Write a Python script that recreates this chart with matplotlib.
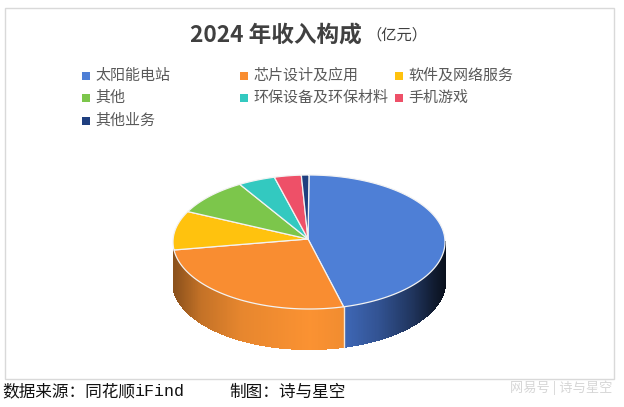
import numpy as np
import matplotlib
matplotlib.use('Agg')
import matplotlib.pyplot as plt
from matplotlib.colors import to_rgb
from matplotlib.patches import Polygon, Rectangle

plt.rcParams['font.family'] = ['Noto Sans CJK SC', 'DejaVu Sans']

categories = ['太阳能电站', '芯片设计及应用', '软件及网络服务', '其他',
              '环保设备及环保材料', '手机游戏', '其他业务']
values = [45.9, 27.2, 9.4, 9.0, 4.4, 3.2, 0.9]
colors = ['#4e7fd6', '#f98d31', '#ffc20e', '#7cc64b', '#33c9c0', '#ee5068', '#1f3f7f']
side_colors = ['#3f68b8', '#fb9232']

W, H = 624, 407
cx, cy, rx, ry, depth = 309, 242, 136, 67, 40

fig = plt.figure(figsize=(W / 100, H / 100), dpi=100)
ax = fig.add_axes([0, 0, 1, 1])
ax.set_xlim(0, W)
ax.set_ylim(H, 0)
ax.axis('off')


def rim(t):
    # t is clockwise from 12 o'clock, in radians
    return cx + rx * np.sin(t), cy - ry * np.cos(t)


ax.add_patch(Rectangle((5, 8), 609, 371, fc='white', ec='#d9d9d9', lw=1))

edges = np.radians(np.concatenate([[0], np.cumsum(values)]) * 360 / sum(values))

# side wall, shaded in thin strips
for i in range(2):
    t = np.linspace(max(edges[i], np.pi / 2), min(edges[i + 1], 1.5 * np.pi), 200)
    base = np.array(to_rgb(side_colors[i]))
    for a, b in zip(t[:-1], t[1:]):
        x0, y0 = rim(a)
        x1, y1 = rim(b)
        u = ((x0 + x1) / 2 - (cx - rx)) / (2 * rx)
        if i == 0:
            shade = np.interp(u, [0.62, 0.75, 0.88, 0.96, 1.0], [1.0, 0.8, 0.5, 0.25, 0.15])
        else:
            shade = np.interp(u, [0.0, 0.1, 0.25, 0.5, 0.62], [0.55, 0.78, 0.92, 1.0, 0.96])
        ax.add_patch(Polygon([(x0, y0), (x1, y1), (x1, y1 + depth), (x0, y0 + depth)],
                             fc=base * shade, ec=base * shade, lw=0.8, antialiased=False))

x_b, y_b = rim(edges[1])
ax.plot([x_b, x_b], [y_b, y_b + depth], color='#f4e6d8', lw=1)

# top face
for i, c in enumerate(colors):
    t = np.linspace(edges[i], edges[i + 1], 120)
    x, y = rim(t)
    pts = [(cx - 1, cy - 3)] + list(zip(x, y))
    ax.add_patch(Polygon(pts, fc=c, ec='#f3f3f3', lw=0.9, joinstyle='round'))

ax.text(190, 35, '2024 年收入构成', fontsize=16.3, fontweight='bold', color='#404040',
        ha='left', va='center')
ax.text(366, 35, '（亿元）', fontsize=11, color='#404040', ha='left', va='center')

legend_x = [82, 240, 395]
legend_y = [75.5, 98, 120.5]
for i, (name, c) in enumerate(zip(categories, colors)):
    lx = legend_x[i % 3]
    ly = legend_y[i // 3]
    ax.add_patch(Rectangle((lx, ly - 4), 8, 8, fc=c, ec='none'))
    ax.text(lx + 13, ly, name, fontsize=10.8, color='#595959', ha='left', va='center')

ax.text(2, 392, '数据来源：同花顺', fontsize=12, color='#111111', ha='left', va='center')
ax.text(135, 392, 'iFind', fontsize=12, family=['Liberation Mono'], color='#111111',
        ha='left', va='center')
ax.text(229, 392, '制图：诗与星空', fontsize=12, color='#111111', ha='left', va='center')
ax.text(612, 388, '网易号 | 诗与星空', fontsize=9.5, color='#d6d6d6', ha='right', va='center')

fig.savefig('out.png', dpi=100)
